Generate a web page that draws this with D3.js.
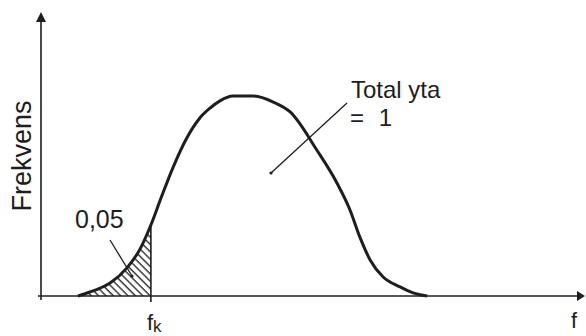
<!DOCTYPE html>
<html>
<head>
<meta charset="utf-8">
<script src="https://cdn.jsdelivr.net/npm/d3@7"></script>
<style>
  html, body { margin: 0; padding: 0; background: #fff; }
  svg { display: block; }
  text { font-family: "Liberation Sans", Arial, Helvetica, sans-serif; fill: #1e1e1e; }
</style>
</head>
<body>
<svg id="chart" width="586" height="336"></svg>
<script>
// Frequency curve (f, relative frequency)
const curveF    = [0.68, 0.90, 1.09, 1.27, 1.58, 1.82, 2.02, 2.22, 2.43, 2.67, 2.92, 3.11, 3.29, 3.53, 3.90, 4.27, 4.58, 5.07, 5.44, 5.68, 5.86, 6.05, 6.29, 6.60, 6.84, 7.10];
const curveFreq = [0.000, 0.014, 0.028, 0.046, 0.099, 0.165, 0.250, 0.352, 0.454, 0.553, 0.627, 0.662, 0.687, 0.704, 0.704, 0.683, 0.648, 0.514, 0.398, 0.303, 0.208, 0.127, 0.067, 0.032, 0.011, 0.000];

// Critical value f_k, tail area to its left
const fK = 2.02;
const tailArea = "0,05";

// Axis extents
const fDomain = [0, 10];
const freqDomain = [0, 1];

const svg = d3.select("#chart");
const ink = "#1e1e1e";

const x = d3.scaleLinear().domain(fDomain).range([41, 585]);
const y = d3.scaleLinear().domain(freqDomain).range([296, 12]);

const points = curveF.map((f, i) => ({ f, v: curveFreq[i] }));

// Hatch pattern for the tail region
const defs = svg.append("defs");
const pat = defs.append("pattern")
  .attr("id", "hatch")
  .attr("patternUnits", "userSpaceOnUse")
  .attr("width", 5.2).attr("height", 5.2)
  .attr("patternTransform", "rotate(-45)");
pat.append("line")
  .attr("x1", 1).attr("y1", 0).attr("x2", 1).attr("y2", 5.2)
  .attr("stroke", ink).attr("stroke-width", 1.3);

defs.append("clipPath").attr("id", "tailClip")
  .append("rect")
  .attr("x", x(fDomain[0])).attr("y", y(freqDomain[1]))
  .attr("width", x(fK) - x(fDomain[0]))
  .attr("height", y(freqDomain[0]) - y(freqDomain[1]));

const area = d3.area()
  .x(d => x(d.f)).y0(y(0)).y1(d => y(d.v))
  .curve(d3.curveMonotoneX);

svg.append("path")
  .datum(points)
  .attr("d", area)
  .attr("fill", "url(#hatch)")
  .attr("clip-path", "url(#tailClip)");

// Axes
svg.append("line")
  .attr("x1", x(fDomain[0]) - 3).attr("y1", y(0))
  .attr("x2", x(fDomain[1]) - 4).attr("y2", y(0))
  .attr("stroke", ink).attr("stroke-width", 1.6);
svg.append("line")
  .attr("x1", x(fDomain[0])).attr("y1", y(0) + 4)
  .attr("x2", x(fDomain[0])).attr("y2", y(freqDomain[1]) + 6)
  .attr("stroke", ink).attr("stroke-width", 1.6);

// Arrow heads
const xe = x(fDomain[1]), ye = y(freqDomain[1]);
svg.append("path")
  .attr("d", `M${xe},${y(0)} L${xe - 8},${y(0) - 5} L${xe - 8},${y(0) + 5} Z`)
  .attr("fill", ink);
svg.append("path")
  .attr("d", `M${x(0)},${ye} L${x(0) - 5},${ye + 10} L${x(0) + 5},${ye + 10} Z`)
  .attr("fill", ink);

// Curve outline
const line = d3.line()
  .x(d => x(d.f)).y(d => y(d.v))
  .curve(d3.curveMonotoneX);
const curvePath = svg.append("path")
  .datum(points)
  .attr("d", line)
  .attr("fill", "none")
  .attr("stroke", ink)
  .attr("stroke-width", 3)
  .attr("stroke-linejoin", "round");

// Height of the curve at f_k, found on the drawn path
function curveYAt(px) {
  const node = curvePath.node();
  const len = node.getTotalLength();
  let lo = 0, hi = len;
  for (let i = 0; i < 40; i++) {
    const mid = (lo + hi) / 2;
    if (node.getPointAtLength(mid).x < px) lo = mid; else hi = mid;
  }
  return node.getPointAtLength(lo).y;
}

// f_k marker line
svg.append("line")
  .attr("x1", x(fK)).attr("x2", x(fK))
  .attr("y1", curveYAt(x(fK))).attr("y2", y(0) + 6)
  .attr("stroke", ink).attr("stroke-width", 1.6);

// Labels
svg.append("text")
  .attr("transform", `translate(31, 156) rotate(-90)`)
  .attr("text-anchor", "middle")
  .attr("font-size", 27)
  .text("Frekvens");

const fkLabel = svg.append("text")
  .attr("x", x(fK) - 4).attr("y", 330)
  .attr("font-size", 22);
fkLabel.append("tspan").text("f");
fkLabel.append("tspan").attr("dy", 2).attr("font-size", 17).text("k");

svg.append("text")
  .attr("x", 571).attr("y", 328)
  .attr("font-size", 22)
  .text("f");

svg.append("text")
  .attr("x", 75).attr("y", 228)
  .attr("font-size", 25)
  .text(tailArea);

svg.append("text")
  .attr("x", 351).attr("y", 98)
  .attr("font-size", 24)
  .text("Total yta");
svg.append("text")
  .attr("x", 350).attr("y", 126)
  .attr("font-size", 24)
  .attr("word-spacing", 8)
  .text("= 1");

// Leader lines
const leaders = [
  { from: [110, 240], to: [132, 276] },
  { from: [347, 103], to: [271, 173] }
];
leaders.forEach(l => {
  svg.append("line")
    .attr("x1", l.from[0]).attr("y1", l.from[1])
    .attr("x2", l.to[0]).attr("y2", l.to[1])
    .attr("stroke", ink).attr("stroke-width", 1.3);
  svg.append("circle")
    .attr("cx", l.to[0]).attr("cy", l.to[1]).attr("r", 1.6)
    .attr("fill", ink);
});
</script>
</body>
</html>
